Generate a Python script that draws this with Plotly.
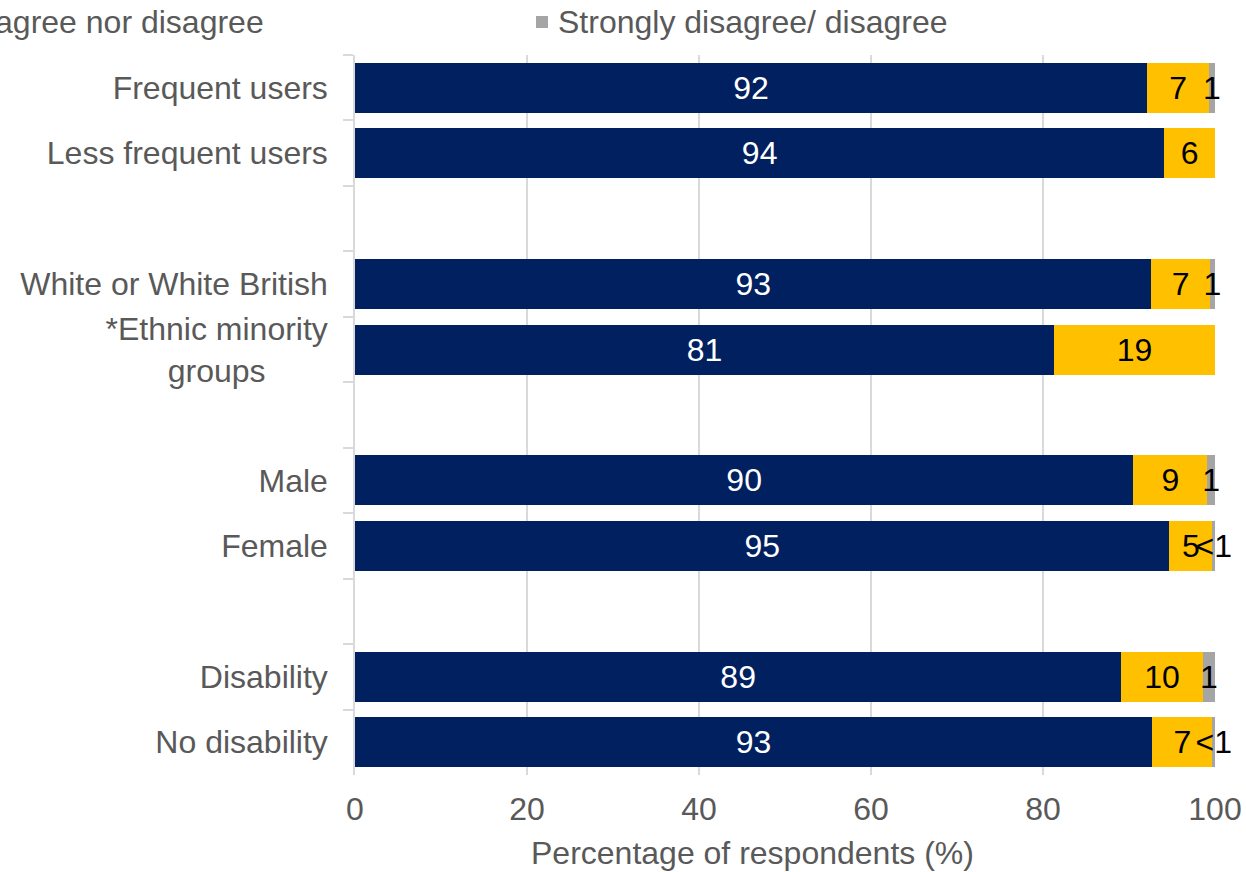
import plotly.graph_objects as go

# ---- data ----
NB = "\u00a0"
categories = [
    "Frequent users",
    "Less frequent users",
    " ",
    "White or White British",
    "*Ethnic minority<br>groups" + NB * 7,
    "  ",
    "Male",
    "Female",
    "   ",
    "Disability",
    "No disability",
]
agree_vals = [92.1, 94.1, None, 92.6, 81.3, None, 90.5, 94.7, None, 89.1, 92.7]
neutral_vals = [7.2, 5.9, None, 6.8, 18.7, None, 8.6, 5.0, None, 9.5, 7.0]
disagree_vals = [0.7, 0.0, None, 0.6, 0.0, None, 0.9, 0.3, None, 1.4, 0.3]
agree_labels = ["92", "94", "", "93", "81", "", "90", "95", "", "89", "93"]
neutral_labels = ["7", "6", "", "7", "19", "", "9", "5", "", "10", "7"]
disagree_labels = ["1", "", "", "1", "", "", "1", "<1", "", "1", "<1"]
series_names = ["Strongly agree/ agree", "Neither agree nor disagree", "Strongly disagree/ disagree"]
colors = ["#002060", "#FFC000", "#A5A5A5"]
x_ticks = [0, 20, 40, 60, 80, 100]
x_title = "Percentage of respondents (%)"

FONT = "Liberation Sans, Arial, sans-serif"
FS = 32
GREY_TXT = "#595959"

fig = go.Figure()
for vals, labs, name, col, tcol in [
    (agree_vals, agree_labels, series_names[0], colors[0], "white"),
    (neutral_vals, neutral_labels, series_names[1], colors[1], "black"),
    (disagree_vals, disagree_labels, series_names[2], colors[2], "black"),
]:
    fig.add_trace(go.Bar(
        y=categories, x=vals, orientation="h", name=name,
        marker=dict(color=col, line=dict(width=0)),
        text=labs, textposition="inside", insidetextanchor="middle",
        textangle=0, constraintext="none", cliponaxis=False,
        insidetextfont=dict(family=FONT, size=FS, color=tcol),
        showlegend=False, hoverinfo="x+y+name",
    ))

W, H = 1246, 872
ML, MR, MT, MB = 355, 31, 55, 97
PW, PH = W - ML - MR, H - MT - MB


def px_x(p):
    return (p - ML) / PW


def px_y(p):
    return (H - MB - p) / PH


# manual legend (the chart is cropped so the first item lies off-canvas)
annotations = []
shapes = []
annotations.append(dict(text=series_names[1], xref="paper", yref="paper", x=px_x(265), y=px_y(22),
                        xanchor="right", yanchor="middle", showarrow=False, borderpad=0,
                        font=dict(family=FONT, size=FS, color=GREY_TXT)))
annotations.append(dict(text=series_names[0], xref="paper", yref="paper", x=px_x(-430), y=px_y(22),
                        xanchor="right", yanchor="middle", showarrow=False, borderpad=0,
                        font=dict(family=FONT, size=FS, color=GREY_TXT)))
annotations.append(dict(text=series_names[2], xref="paper", yref="paper", x=px_x(557), y=px_y(22),
                        xanchor="left", yanchor="middle", showarrow=False, borderpad=0,
                        font=dict(family=FONT, size=FS, color=GREY_TXT)))
# x-axis title (offset left of plot centre, as in the original)
annotations.append(dict(text=x_title, xref="paper", yref="paper", x=px_x(752), y=px_y(853),
                        xanchor="center", yanchor="middle", showarrow=False, borderpad=0,
                        font=dict(family=FONT, size=FS, color=GREY_TXT)))
for x0, col in [(536, colors[2]), (-130, colors[1]), (-795, colors[0])]:
    shapes.append(dict(type="rect", xref="paper", yref="paper",
                       x0=px_x(x0), x1=px_x(x0 + 12), y0=px_y(28), y1=px_y(16),
                       fillcolor=col, line=dict(width=0)))

fig.update_layout(
    width=W, height=H,
    margin=dict(l=ML, r=MR, t=MT, b=MB, autoexpand=False),
    barmode="stack", bargap=0.236,
    plot_bgcolor="white", paper_bgcolor="white",
    font=dict(family=FONT, size=FS, color=GREY_TXT),
    annotations=annotations, shapes=shapes,
    xaxis=dict(
        range=[0, 100], tickvals=x_ticks, showgrid=True, gridcolor="#D9D9D9", gridwidth=1.5,
        zeroline=False, showline=False, ticks="", ticklabelstandoff=12,
        tickfont=dict(family=FONT, size=FS, color=GREY_TXT),
        fixedrange=True,
    ),
    yaxis=dict(
        type="category", categoryorder="array", categoryarray=categories,
        autorange="reversed", tickson="boundaries", ticks="outside", ticklen=10,
        tickcolor="#D9D9D9", tickwidth=1.5, showline=True, linecolor="#D9D9D9", linewidth=1.5,
        showgrid=False, ticklabelstandoff=19,
        tickfont=dict(family=FONT, size=FS, color=GREY_TXT),
        fixedrange=True,
    ),
)

fig.write_html(
    "out.html",
    config={"displayModeBar": False},
    post_script="document.body.style.margin='0';document.documentElement.style.overflow='hidden';",
)
